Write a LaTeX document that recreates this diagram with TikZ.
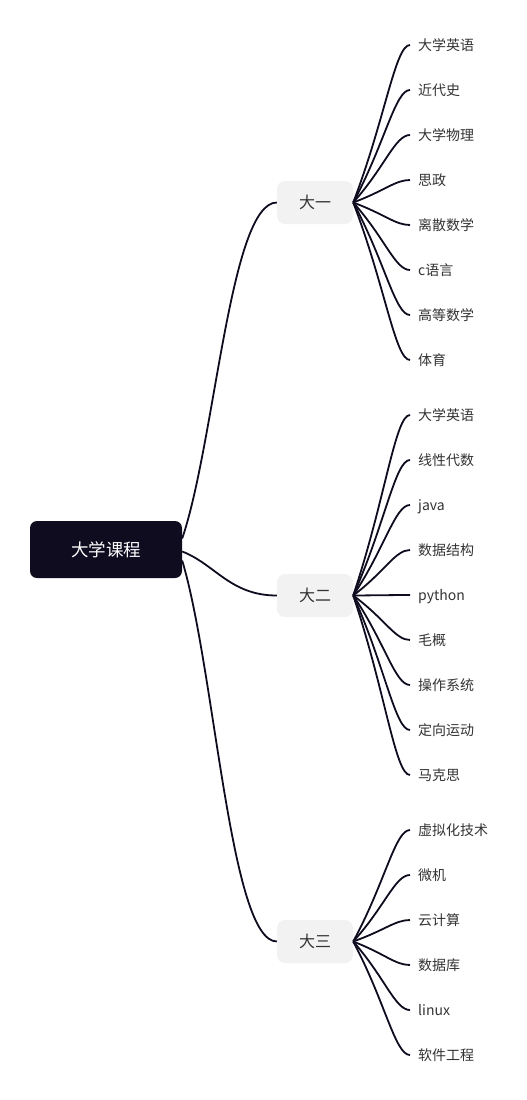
\documentclass[tikz,border=0pt]{standalone}
\usepackage{fontspec}
\setmainfont{Noto Sans CJK SC}
\usetikzlibrary{calc}
\definecolor{navy}{HTML}{0F0C20}
\definecolor{boxgray}{HTML}{F2F2F2}
\definecolor{txt}{HTML}{333333}
\begin{document}
\begin{tikzpicture}[x=1pt,y=-1pt,
  rootbox/.style={fill=navy, rounded corners=7pt, minimum width=152pt, minimum height=57pt, text=white, font=\fontsize{17.5}{20}\selectfont, inner sep=0pt},
  yearbox/.style={fill=boxgray, rounded corners=8pt, minimum width=76pt, minimum height=43pt, text=txt, font=\fontsize{16}{19}\selectfont, inner sep=0pt},
  leafnode/.style={anchor=west, inner xsep=8pt, inner ysep=2pt, text height=12pt, text depth=2pt, text=txt, font=\fontsize{14}{16}\selectfont},
  link/.style={draw=navy, line width=1.8pt},
  rootcurve/.style={to path={let \p1=(\tikztostart), \p2=(\tikztotarget) in .. controls (\x1+33pt,{\y1+0.29*(\y2-\y1)}) and (\x1+48pt,\y2) .. (\tikztotarget)}},
  leafcurve/.style={to path={let \p1=(\tikztostart), \p2=(\tikztotarget) in .. controls (\x1+32pt,{\y1+0.53*(\y2-\y1)}) and (\x1+42pt,\y2) .. (\tikztotarget)}},
]
\useasboundingbox (0,0) rectangle (527,1100);

\node[rootbox] (root) at (106,549.5) {大学课程};
\node[yearbox] (y1) at (315,202.5) {大一};
\node[yearbox] (y2) at (315,595.5) {大二};
\node[yearbox] (y3) at (315,941.5) {大三};

\coordinate (r1) at ([yshift=11pt]root.east);
\coordinate (r2) at ([yshift=-2pt]root.east);
\coordinate (r3) at ([yshift=-11pt]root.east);

\draw[link] (r1) to[rootcurve] (y1.west);
\draw[link] (r2) to[rootcurve] (y2.west);
\draw[link] (r3) to[rootcurve] (y3.west);

\foreach \t [count=\i] in {大学英语,近代史,大学物理,思政,离散数学,c语言,高等数学,体育}{
  \node[leafnode] (a\i) at (410,{45*\i}) {\t};
  \draw[link] (y1.east) to[leafcurve] (a\i.west);
}
\foreach \t [count=\i] in {大学英语,线性代数,java,数据结构,python,毛概,操作系统,定向运动,马克思}{
  \node[leafnode] (b\i) at (410,{415+45*(\i-1)}) {\t};
  \draw[link] (y2.east) to[leafcurve] (b\i.west);
}
\foreach \t [count=\i] in {虚拟化技术,微机,云计算,数据库,linux,软件工程}{
  \node[leafnode] (c\i) at (410,{830+45*(\i-1)}) {\t};
  \draw[link] (y3.east) to[leafcurve] (c\i.west);
}
\end{tikzpicture}
\end{document}
